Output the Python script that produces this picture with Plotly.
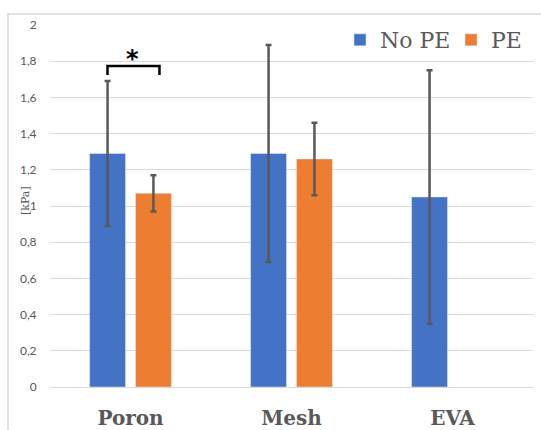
import plotly.graph_objects as go

categories = ["Poron", "Mesh", "EVA"]
no_pe = [1.29, 1.29, 1.05]
no_pe_err = [0.40, 0.60, 0.70]
pe = [1.07, 1.26, None]
pe_err = [0.10, 0.20, None]
y_ticks = [0, 0.2, 0.4, 0.6, 0.8, 1, 1.2, 1.4, 1.6, 1.8, 2]
y_tick_labels = ["0", "0,2", "0,4", "0,6", "0,8", "1", "1,2", "1,4", "1,6", "1,8", "2"]
y_title = "[kPa]"

BLUE = "#4472c4"
ORANGE = "#ed7d31"
GRAY = "#595959"

fig = go.Figure()
fig.add_trace(go.Bar(
    x=categories, y=no_pe, name="No PE", marker_color=BLUE,
    error_y=dict(type="data", array=no_pe_err, color=GRAY, thickness=2.5, width=3),
))
fig.add_trace(go.Bar(
    x=categories, y=pe, name="PE", marker_color=ORANGE,
    error_y=dict(type="data", array=pe_err, color=GRAY, thickness=2.5, width=3),
))

# significance bracket between Poron bars
fig.add_shape(type="path", xref="x", yref="y",
              path="M -0.143,1.724 L -0.143,1.773 L 0.18,1.773 L 0.18,1.724",
              line=dict(color="black", width=2.5))
fig.add_annotation(x=0.01, y=1.81, xref="x", yref="y", text="<b>*</b>",
                   showarrow=False, font=dict(family="DejaVu Sans", size=24, color="black"),
                   yanchor="middle")

# y-axis title
fig.add_annotation(x=(25 - 50) / 483, y=(387 - 201) / 362, xref="paper", yref="paper",
                   text=y_title, textangle=-90, showarrow=False,
                   xanchor="center", yanchor="middle",
                   font=dict(family="DejaVu Serif", size=11, color=GRAY))

# outer chart border (light gray)
fig.add_shape(type="rect", xref="paper", yref="paper",
              x0=(8 - 50) / 483, y0=-0.3, x1=1.2, y1=1 + (25 - 14) / 362,
              line=dict(color="#d9d9d9", width=1.5), fillcolor="rgba(0,0,0,0)", layer="below")

fig.update_layout(
    width=541, height=430,
    margin=dict(l=50, r=8, t=25, b=43, autoexpand=False),
    paper_bgcolor="white", plot_bgcolor="white",
    barmode="group", bargap=0.43, bargroupgap=0.217,
    showlegend=True,
    legend=dict(orientation="h", x=(354 - 14 - 50) / 483, xanchor="left",
                y=(387 - 40) / 362, yanchor="middle", entrywidth=66,
                font=dict(family="DejaVu Serif", size=22, color=GRAY),
                bgcolor="rgba(255,255,255,0)", traceorder="normal"),
    xaxis=dict(showgrid=False, showline=False, zeroline=False, automargin=False,
               ticks="outside", ticklen=13, tickcolor="rgba(0,0,0,0)",
               tickfont=dict(family="DejaVu Serif", size=20, color=GRAY, weight="bold"),
               categoryorder="array", categoryarray=categories),
    yaxis=dict(range=[0, 2], tickvals=y_ticks, ticktext=y_tick_labels, automargin=False,
               showgrid=True, gridcolor="#d9d9d9", gridwidth=1,
               zeroline=True, zerolinecolor="#d9d9d9", zerolinewidth=1,
               showline=False, ticks="outside", ticklen=10, tickcolor="rgba(0,0,0,0)",
               tickfont=dict(family="Lato", size=12, color=GRAY)),
)

fig.write_html("out.html", config={"displayModeBar": False},
               post_script="document.body.style.margin='0';document.body.style.overflow='hidden';")
